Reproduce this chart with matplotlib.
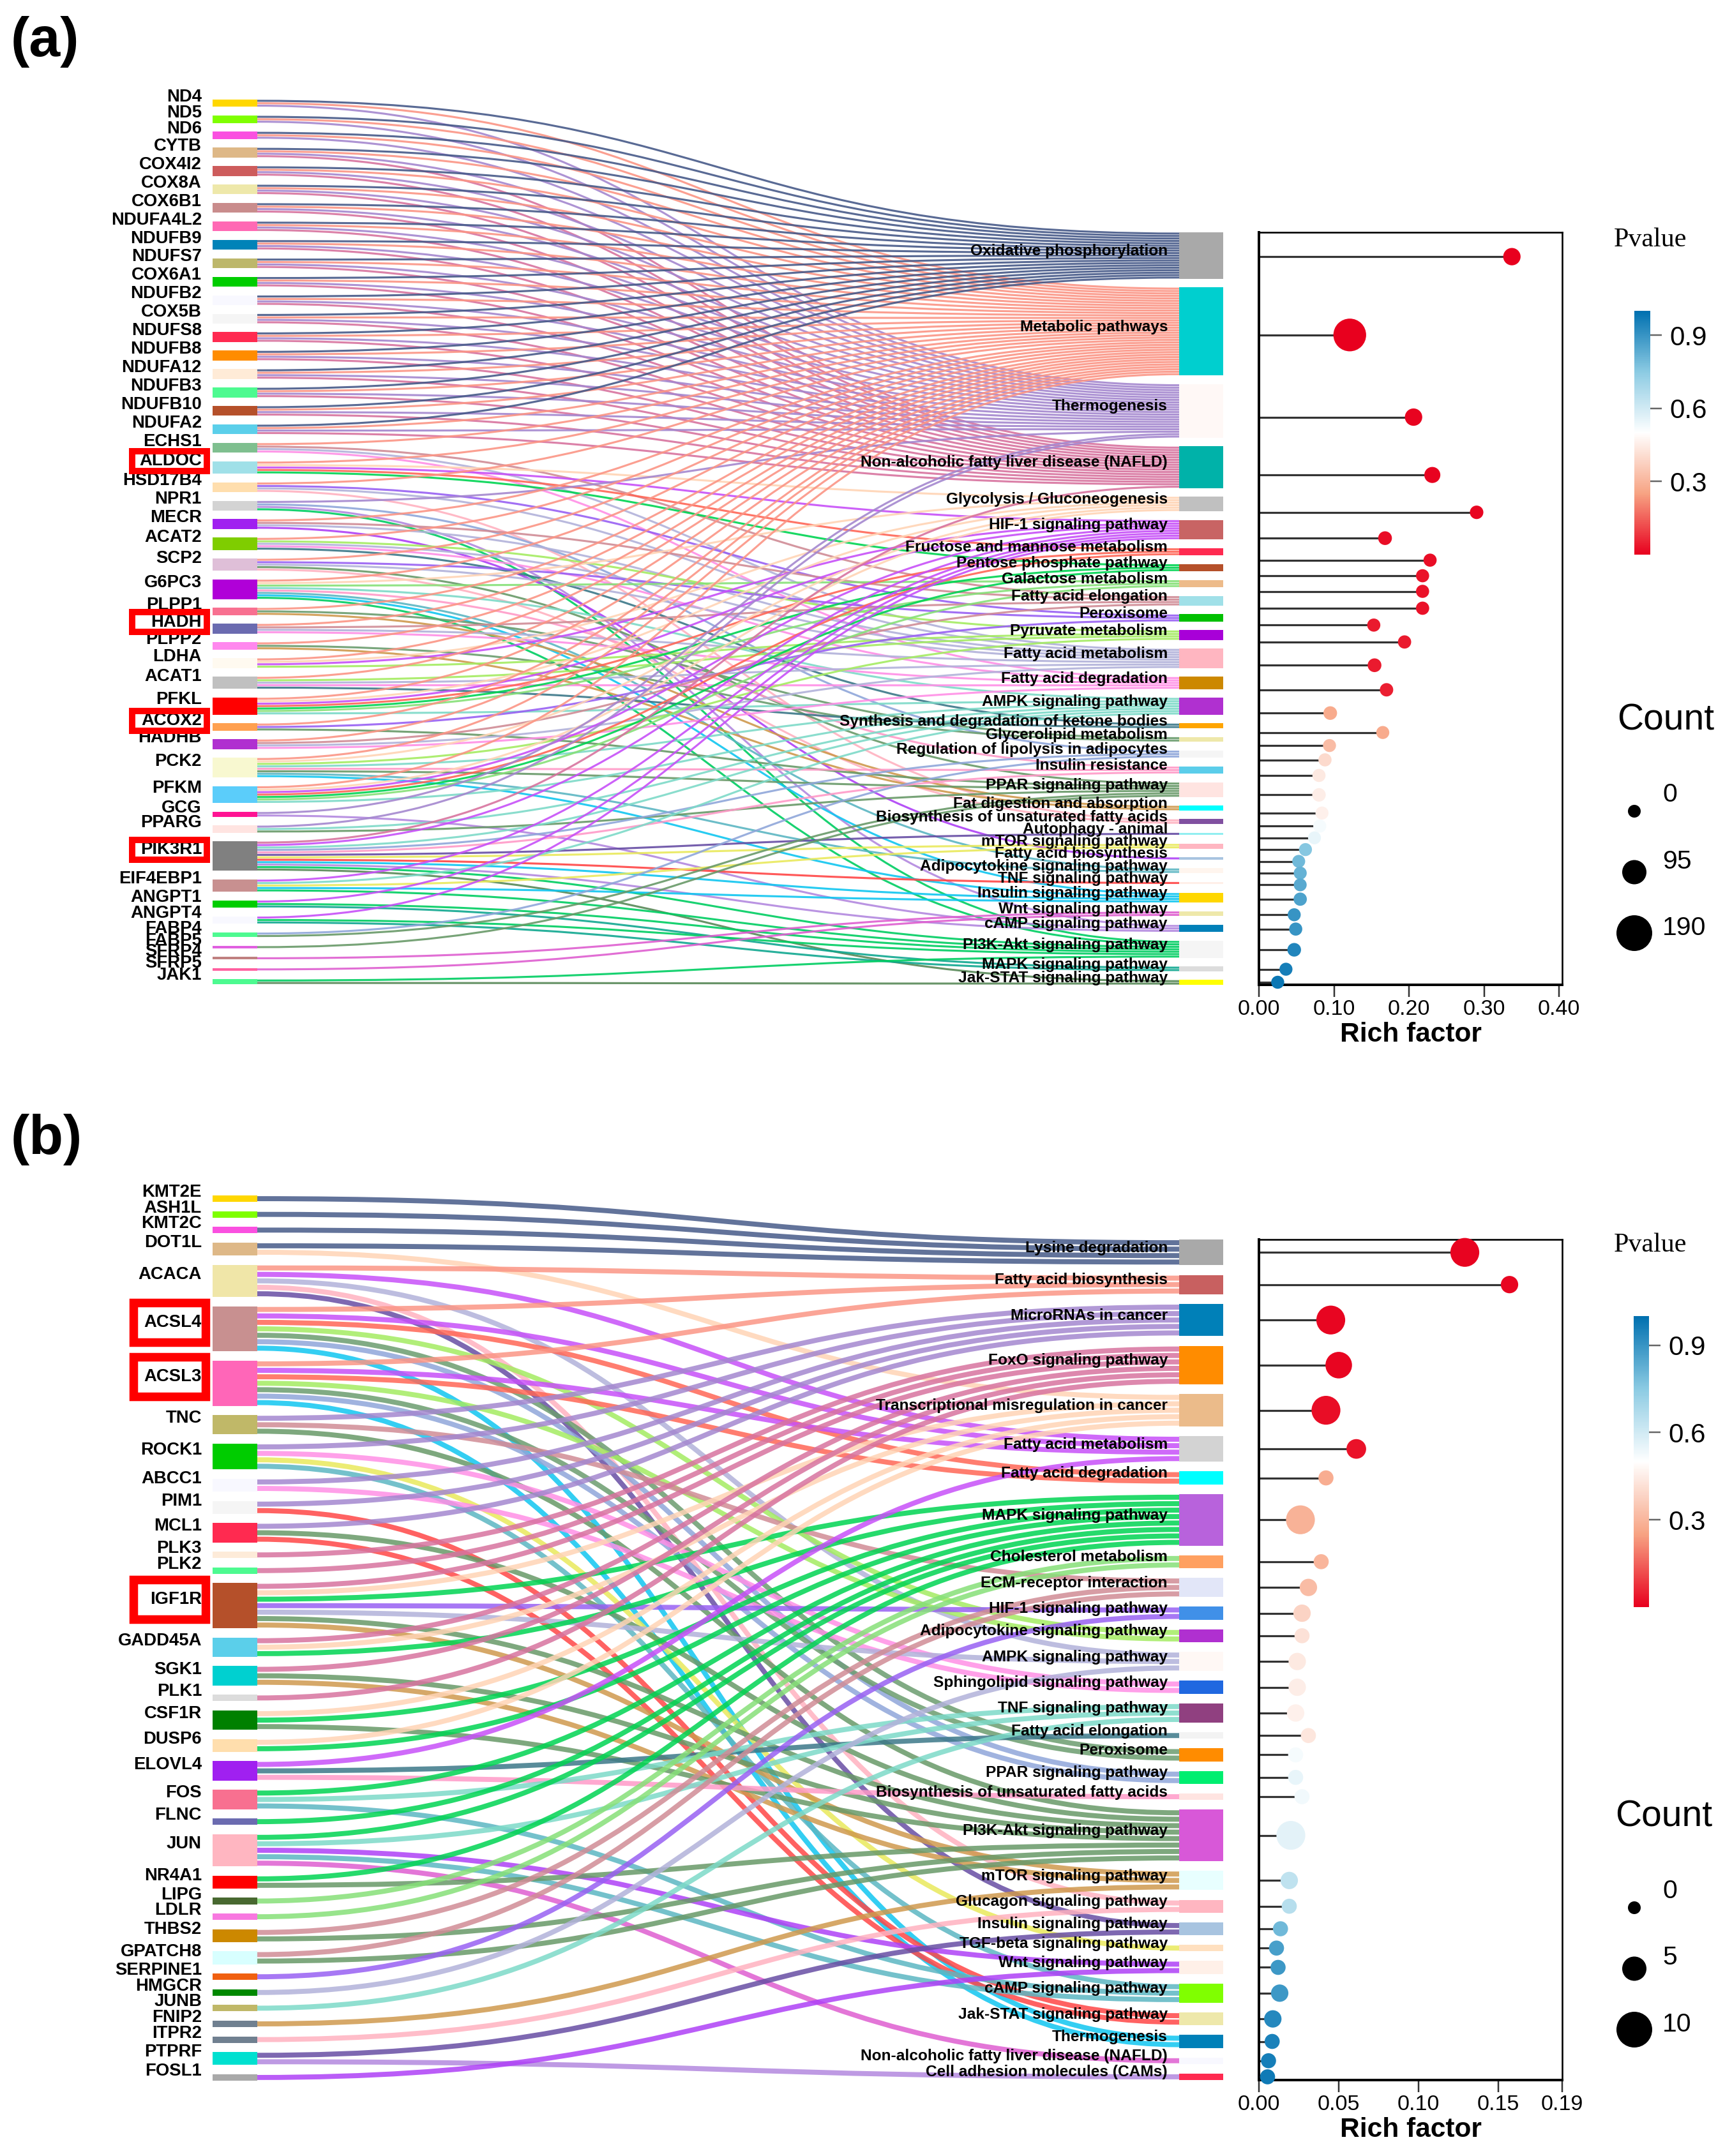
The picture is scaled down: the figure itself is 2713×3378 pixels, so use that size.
import numpy as np
import matplotlib
matplotlib.use("Agg")
import matplotlib.pyplot as plt
from matplotlib.path import Path
from matplotlib.patches import PathPatch, Rectangle
from matplotlib.colors import LinearSegmentedColormap, Normalize
from matplotlib.cm import ScalarMappable

plt.rcParams['font.family'] = ['Liberation Sans', 'DejaVu Sans']

# ======================= DATA : panel (a) =======================
genes_a = ['ND4', 'ND5', 'ND6', 'CYTB', 'COX4I2', 'COX8A', 'COX6B1', 'NDUFA4L2', 'NDUFB9',
           'NDUFS7', 'COX6A1', 'NDUFB2', 'COX5B', 'NDUFS8', 'NDUFB8', 'NDUFA12', 'NDUFB3',
           'NDUFB10', 'NDUFA2', 'ECHS1', 'ALDOC', 'HSD17B4', 'NPR1', 'MECR', 'ACAT2', 'SCP2',
           'G6PC3', 'PLPP1', 'HADH', 'PLPP2', 'LDHA', 'ACAT1', 'PFKL', 'ACOX2', 'HADHB', 'PCK2',
           'PFKM', 'GCG', 'PPARG', 'PIK3R1', 'EIF4EBP1', 'ANGPT1', 'ANGPT4', 'FABP4', 'FABP5',
           'SFRP4', 'SFRP5', 'JAK1']
pathway_keys_a = ['OX', 'MET', 'THERMO', 'NAFLD', 'GLY', 'HIF', 'FRU', 'PPP', 'GAL', 'FAE', 'PER',
                  'PYR', 'FAM', 'FAD', 'AMPK', 'KET', 'GLP', 'LIP', 'INR', 'PPAR', 'FDA', 'BUF',
                  'AUT', 'MTOR', 'FAB', 'ADI', 'TNF', 'INS', 'WNT', 'CAMP', 'PI3K', 'MAPK', 'JAK']
pathways_a = ['Oxidative phosphorylation', 'Metabolic pathways', 'Thermogenesis',
              'Non-alcoholic fatty liver disease (NAFLD)', 'Glycolysis / Gluconeogenesis',
              'HIF-1 signaling pathway', 'Fructose and mannose metabolism',
              'Pentose phosphate pathway', 'Galactose metabolism', 'Fatty acid elongation',
              'Peroxisome', 'Pyruvate metabolism', 'Fatty acid metabolism',
              'Fatty acid degradation', 'AMPK signaling pathway',
              'Synthesis and degradation of ketone bodies', 'Glycerolipid metabolism',
              'Regulation of lipolysis in adipocytes', 'Insulin resistance',
              'PPAR signaling pathway', 'Fat digestion and absorption',
              'Biosynthesis of unsaturated fatty acids', 'Autophagy - animal',
              'mTOR signaling pathway', 'Fatty acid biosynthesis',
              'Adipocytokine signaling pathway', 'TNF signaling pathway',
              'Insulin signaling pathway', 'Wnt signaling pathway', 'cAMP signaling pathway',
              'PI3K-Akt signaling pathway', 'MAPK signaling pathway', 'Jak-STAT signaling pathway']
links_a = {
    'ND4': ['OX', 'MET', 'THERMO'],
    'ND5': ['OX', 'MET', 'THERMO'],
    'ND6': ['OX', 'MET', 'THERMO'],
    'CYTB': ['OX', 'MET', 'THERMO', 'NAFLD'],
    'COX4I2': ['OX', 'MET', 'THERMO', 'NAFLD'],
    'COX8A': ['OX', 'MET', 'THERMO', 'NAFLD'],
    'COX6B1': ['OX', 'MET', 'THERMO', 'NAFLD'],
    'NDUFA4L2': ['OX', 'MET', 'THERMO', 'NAFLD'],
    'NDUFB9': ['OX', 'MET', 'THERMO', 'NAFLD'],
    'NDUFS7': ['OX', 'MET', 'THERMO', 'NAFLD'],
    'COX6A1': ['OX', 'MET', 'THERMO', 'NAFLD'],
    'NDUFB2': ['OX', 'MET', 'THERMO', 'NAFLD'],
    'COX5B': ['OX', 'MET', 'THERMO', 'NAFLD'],
    'NDUFS8': ['OX', 'MET', 'THERMO', 'NAFLD'],
    'NDUFB8': ['OX', 'MET', 'THERMO', 'NAFLD'],
    'NDUFA12': ['OX', 'MET', 'THERMO', 'NAFLD'],
    'NDUFB3': ['OX', 'MET', 'THERMO', 'NAFLD'],
    'NDUFB10': ['OX', 'MET', 'THERMO', 'NAFLD'],
    'NDUFA2': ['OX', 'MET', 'THERMO', 'NAFLD'],
    'ECHS1': ['MET', 'FAE', 'FAM', 'FAD'],
    'ALDOC': ['MET', 'GLY', 'HIF', 'FRU', 'PPP'],
    'HSD17B4': ['MET', 'PER', 'FAM', 'BUF'],
    'NPR1': ['THERMO', 'LIP', 'CAMP', 'PI3K'],
    'MECR': ['MET', 'FAE', 'FAM', 'FAB'],
    'ACAT2': ['MET', 'PYR', 'FAM', 'FAD', 'KET'],
    'SCP2': ['MET', 'PER', 'FAM', 'PPAR', 'BUF'],
    'G6PC3': ['MET', 'GLY', 'GAL', 'AMPK', 'INR', 'ADI', 'INS', 'PI3K'],
    'PLPP1': ['MET', 'GLP', 'FDA'],
    'HADH': ['MET', 'FAE', 'FAM', 'FAD'],
    'PLPP2': ['MET', 'GLP', 'FDA'],
    'LDHA': ['MET', 'GLY', 'HIF', 'PYR'],
    'ACAT1': ['MET', 'PYR', 'FAM', 'FAD', 'KET'],
    'PFKL': ['MET', 'GLY', 'HIF', 'FRU', 'PPP', 'GAL', 'AMPK'],
    'ACOX2': ['MET', 'PER', 'PPAR'],
    'HADHB': ['MET', 'FAE', 'FAM', 'FAD'],
    'PCK2': ['MET', 'GLY', 'PYR', 'AMPK', 'INR', 'ADI', 'INS', 'PPAR'],
    'PFKM': ['MET', 'GLY', 'HIF', 'FRU', 'PPP', 'GAL', 'AMPK'],
    'GCG': ['THERMO', 'CAMP'],
    'PPARG': ['THERMO', 'AMPK', 'PPAR'],
    'PIK3R1': ['NAFLD', 'HIF', 'AMPK', 'LIP', 'INR', 'AUT', 'MTOR', 'TNF', 'INS', 'CAMP', 'PI3K', 'JAK'],
    'EIF4EBP1': ['HIF', 'AMPK', 'MTOR', 'INS', 'PI3K'],
    'ANGPT1': ['HIF', 'PI3K', 'MAPK'],
    'ANGPT4': ['HIF', 'PI3K', 'MAPK'],
    'FABP4': ['LIP', 'PPAR'],
    'FABP5': ['PPAR'],
    'SFRP4': ['WNT'],
    'SFRP5': ['WNT'],
    'JAK1': ['PI3K', 'JAK'],
}
rich_a = [0.337, 0.121, 0.206, 0.231, 0.290, 0.168, 0.228, 0.218, 0.218, 0.218, 0.153,
          0.194, 0.154, 0.170, 0.095, 0.165, 0.094, 0.088, 0.080, 0.080, 0.084, 0.081,
          0.074, 0.062, 0.053, 0.055, 0.055, 0.055, 0.047, 0.049, 0.047, 0.036, 0.025]
pval_a = [0.001, 0.0005, 0.005, 0.006, 0.01, 0.02, 0.02, 0.03, 0.03, 0.03, 0.04,
          0.04, 0.04, 0.05, 0.27, 0.27, 0.32, 0.40, 0.44, 0.45, 0.46, 0.52,
          0.55, 0.76, 0.80, 0.82, 0.84, 0.86, 0.90, 0.90, 0.94, 0.96, 0.98]
count_a = [38, 165, 38, 27, 6, 8, 3, 3, 3, 4, 3, 4, 8, 5, 7, 2, 2, 3, 3, 6, 2, 2,
           1, 2, 1, 2, 1, 4, 2, 3, 7, 2, 2]
highlight_a = ['ALDOC', 'HADH', 'ACOX2', 'PIK3R1']
legend_counts_a = [0, 95, 190]

# ======================= DATA : panel (b) =======================
genes_b = ['KMT2E', 'ASH1L', 'KMT2C', 'DOT1L', 'ACACA', 'ACSL4', 'ACSL3', 'TNC', 'ROCK1',
           'ABCC1', 'PIM1', 'MCL1', 'PLK3', 'PLK2', 'IGF1R', 'GADD45A', 'SGK1', 'PLK1',
           'CSF1R', 'DUSP6', 'ELOVL4', 'FOS', 'FLNC', 'JUN', 'NR4A1', 'LIPG', 'LDLR', 'THBS2',
           'GPATCH8', 'SERPINE1', 'HMGCR', 'JUNB', 'FNIP2', 'ITPR2', 'PTPRF', 'FOSL1']
pathway_keys_b = ['LYS', 'FAB', 'MIR', 'FOXO', 'TMC', 'FAM', 'FAD', 'MAPK', 'CHO', 'ECM', 'HIF',
                  'ADI', 'AMPK', 'SPH', 'TNF', 'FAE', 'PER', 'PPAR', 'BUF', 'PI3K', 'MTOR',
                  'GCG', 'INS', 'TGF', 'WNT', 'CAMP', 'JAK', 'THERMO', 'NAFLD', 'CAM']
pathways_b = ['Lysine degradation', 'Fatty acid biosynthesis', 'MicroRNAs in cancer',
              'FoxO signaling pathway', 'Transcriptional misregulation in cancer',
              'Fatty acid metabolism', 'Fatty acid degradation', 'MAPK signaling pathway',
              'Cholesterol metabolism', 'ECM-receptor interaction', 'HIF-1 signaling pathway',
              'Adipocytokine signaling pathway', 'AMPK signaling pathway',
              'Sphingolipid signaling pathway', 'TNF signaling pathway',
              'Fatty acid elongation', 'Peroxisome', 'PPAR signaling pathway',
              'Biosynthesis of unsaturated fatty acids', 'PI3K-Akt signaling pathway',
              'mTOR signaling pathway', 'Glucagon signaling pathway',
              'Insulin signaling pathway', 'TGF-beta signaling pathway',
              'Wnt signaling pathway', 'cAMP signaling pathway', 'Jak-STAT signaling pathway',
              'Thermogenesis', 'Non-alcoholic fatty liver disease (NAFLD)',
              'Cell adhesion molecules (CAMs)']
links_b = {
    'KMT2E': ['LYS'],
    'ASH1L': ['LYS'],
    'KMT2C': ['LYS'],
    'DOT1L': ['LYS', 'TMC'],
    'ACACA': ['FAB', 'FAM', 'AMPK', 'GCG', 'INS'],
    'ACSL4': ['FAB', 'FAM', 'FAD', 'ADI', 'PER', 'PPAR', 'THERMO'],
    'ACSL3': ['FAB', 'FAM', 'FAD', 'ADI', 'PER', 'PPAR', 'THERMO'],
    'TNC': ['MIR', 'ECM', 'PI3K'],
    'ROCK1': ['MIR', 'SPH', 'TGF', 'CAMP'],
    'ABCC1': ['MIR', 'SPH'],
    'PIM1': ['MIR', 'JAK'],
    'MCL1': ['MIR', 'PI3K', 'JAK'],
    'PLK3': ['FOXO'],
    'PLK2': ['FOXO'],
    'IGF1R': ['FOXO', 'TMC', 'MAPK', 'HIF', 'AMPK', 'PI3K', 'MTOR'],
    'GADD45A': ['FOXO', 'TMC', 'MAPK'],
    'SGK1': ['FOXO', 'PI3K', 'MTOR'],
    'PLK1': ['FOXO'],
    'CSF1R': ['TMC', 'MAPK', 'PI3K'],
    'DUSP6': ['TMC', 'MAPK'],
    'ELOVL4': ['FAM', 'FAE', 'BUF'],
    'FOS': ['MAPK', 'TNF', 'CAMP'],
    'FLNC': ['MAPK'],
    'JUN': ['MAPK', 'TNF', 'WNT', 'CAMP', 'NAFLD'],
    'NR4A1': ['MAPK', 'PI3K'],
    'LIPG': ['CHO'],
    'LDLR': ['CHO'],
    'THBS2': ['ECM', 'PI3K'],
    'GPATCH8': ['ECM', 'PI3K'],
    'SERPINE1': ['HIF'],
    'HMGCR': ['AMPK'],
    'JUNB': ['TNF'],
    'FNIP2': ['MTOR'],
    'ITPR2': ['GCG'],
    'PTPRF': ['INS', 'CAM'],
    'FOSL1': ['WNT'],
}
rich_b = [0.129, 0.157, 0.045, 0.050, 0.042, 0.061, 0.042, 0.026, 0.039, 0.031, 0.027,
          0.027, 0.024, 0.024, 0.023, 0.031, 0.023, 0.023, 0.027, 0.020, 0.019, 0.019,
          0.0135, 0.011, 0.012, 0.013, 0.0087, 0.0083, 0.006, 0.0054]
pval_b = [0.005, 0.01, 0.01, 0.01, 0.02, 0.03, 0.28, 0.29, 0.30, 0.32, 0.38, 0.42, 0.44,
          0.45, 0.46, 0.43, 0.52, 0.55, 0.53, 0.56, 0.64, 0.66, 0.80, 0.87, 0.89, 0.89,
          0.93, 0.95, 0.96, 0.97]
count_b = [7, 2, 7, 6, 7, 3, 1, 7, 1, 2, 2, 1, 2, 2, 2, 1, 1, 1, 1, 7, 2, 1, 1, 1, 1, 2,
           2, 1, 1, 1]
highlight_b = ['ACSL4', 'ACSL3', 'IGF1R']
legend_counts_b = [0, 5, 10]

# ======================= STYLE =======================
LINK_PAL = ['#475a89', '#fb9585', '#a487cf', '#d8739f', '#ffd4b5', '#c750f8', '#ff6656',
            '#00d452', '#86e078', '#d08c96', '#9860f3', '#a4ec62', '#b2b2da', '#ff8fe6',
            '#7ddac8', '#3c7889', '#6b9c6e', '#8fa6da', '#ff9ac8', '#689968', '#cf994d',
            '#ffb2c0', '#674ea4', '#e9e95c', '#ae40f6', '#5cb6c2', '#ff4646', '#10c6f0',
            '#de5ed0', '#b388df', '#00cd62', '#10a890', '#588958']
GENE_COL_A = ['#ffd700', '#7fff00', '#fa50e0', '#deb887', '#cd5c5c', '#eee8aa', '#c98c8c',
              '#ff69b4', '#0083b8', '#bdb76b', '#00cd00', '#f8f8ff', '#f5f5f5', '#ff2a50',
              '#ff8c00', '#ffebd7', '#4dfa90', '#b5502a', '#5bcfea', '#7fbf8f', '#a0e0e8',
              '#ffdead', '#d3d3d3', '#a020f0', '#7fcd00', '#dfbfd8', '#b000d8', '#f87090',
              '#6b6bb0', '#ff88ee', '#fffaf0', '#c0c0c0', '#ff0000', '#ffa050', '#b030d0',
              '#f8f8d0', '#5bcdfa', '#ff1493', '#ffe4e1', '#808080', '#c89090', '#00cd00',
              '#f8f8ff', '#4dfa90', '#e060e0', '#c08080', '#ff60a0', '#4dfa90']
PW_COL_A = ['#a9a9a9', '#00cfcf', '#fff8f6', '#00b2a9', '#c0c0c0', '#c86464', '#ff2a50',
            '#b5502a', '#edbb8a', '#a0e0e8', '#00c000', '#a800d8', '#ffb6c1', '#cc8800',
            '#b030d0', '#ffa500', '#eee8aa', '#f5f5f5', '#5bcdea', '#ffe4e1', '#00ffff',
            '#8050a0', '#90eef0', '#ffb6c1', '#a8c4e0', '#fff5ee', '#ffefe8', '#ffd700',
            '#eee8aa', '#0080b8', '#f5f5f5', '#dcdcdc', '#ffff00']
GENE_COL_B = ['#ffd700', '#7fff00', '#fa50e0', '#deb887', '#f0e6a8', '#c89090', '#ff66b8',
              '#c0b868', '#00cc00', '#f8f8ff', '#f5f5f5', '#ff2a50', '#fdebd9', '#4dfa90',
              '#b5502a', '#5bcfea', '#00d0d0', '#dcdcdc', '#008000', '#ffdead', '#a020f0',
              '#f87090', '#6b6bb0', '#ffb6c1', '#ff0000', '#486830', '#f878e0', '#cc8800',
              '#d8ffff', '#f06010', '#008800', '#c0b868', '#708090', '#708090', '#00e0d0',
              '#a9a9a9']
PW_COL_B = ['#a9a9a9', '#c86060', '#0080b8', '#ff8c00', '#ebbb8a', '#d3d3d3', '#00ffff',
            '#b862dc', '#ffa060', '#e2e6f8', '#4090e8', '#b030d0', '#fff8f5', '#2068e0',
            '#904080', '#f3f3f3', '#ff8c00', '#00ee70', '#ffe4e1', '#d858d8', '#e8ffff',
            '#ffb6c1', '#a8c4e0', '#ffe0c0', '#fff0e8', '#80ff00', '#eee8aa', '#0080b8',
            '#f8f8ff', '#ff2a50']

W, H, DPI = 2713, 3378, 100
PT = 72.0 / DPI   # points per pixel

COMMON = dict(gx0=333, gx1=403, px0=1847, px1=1916, glabel_x=316, glabel_dy=-10,
              plabel_x=1829, plabel_dy=-7, lx0=1972, lx1=2447, box_x0=202, box_x1=329,
              dmin=20, dmax=56, legend_x=2560, legend_label_x=2604, legend_dy=95.5)
LA = dict(COMMON, left_top=156, left_bottom=1542, pad=13.6, right_top=364, right_bottom=1543,
          lolli_pad=12.4, xmax=0.404, xticks=[0, 0.1, 0.2, 0.3, 0.4], box_h=41, box_lw=10,
          cbar=(2560, 487, 2585, 869), pv=(2585, 376), count_title=(2609, 1129),
          legend_y0=1271, panel_label=(17, 65), label='(a)', link_frac=0.82, link_alpha=0.9)
LB = dict(COMMON, left_top=1873, left_bottom=3260, pad=14.5, right_top=1942, right_bottom=3259,
          lolli_pad=None, xmax=0.19, xticks=[0, 0.05, 0.10, 0.15, 0.19], box_h=75, box_lw=13.5,
          cbar=(2559, 2062, 2583, 2518), pv=(2585, 1951), count_title=(2606, 2847),
          legend_y0=2989, panel_label=(17, 1785), label='(b)', link_frac=0.78, link_alpha=0.85)

cmap = LinearSegmentedColormap.from_list(
    'pv', [(0.0, '#e8001e'), (0.25, '#f7a383'), (0.5, '#ffffff'), (0.75, '#8ccbe3'), (1.0, '#0070b0')])
norm = Normalize(0, 1)

fig = plt.figure(figsize=(W / DPI, H / DPI), dpi=DPI)
ax0 = fig.add_axes([0, 0, 1, 1])
ax0.set_xlim(0, W)
ax0.set_ylim(H, 0)
ax0.axis('off')


def stack(counts, top, bottom, pad=None, ky=None):
    counts = np.asarray(counts, float)
    n = len(counts)
    span = bottom - top
    if ky is None:
        ky = (span - (n - 1) * pad) / counts.sum()
    if pad is None:
        pad = (span - ky * counts.sum()) / (n - 1)
    heights = counts * ky
    tops = top + np.concatenate([[0.0], np.cumsum(heights[:-1] + pad)])
    return tops, heights, ky


def draw_panel(genes, links, pw_names, pw_keys, rich, pval, count, highlight, legend_counts,
               L, gene_cols, pw_cols, cmax):
    gidx = {g: i for i, g in enumerate(genes)}
    pidx = {k: j for j, k in enumerate(pw_keys)}
    pairs = [(gidx[g], pidx[k]) for g in genes for k in links[g]]
    gcount = np.bincount([p[0] for p in pairs], minlength=len(genes))
    pcount = np.bincount([p[1] for p in pairs], minlength=len(pw_keys))
    gt, gh, ky = stack(gcount, L['left_top'], L['left_bottom'], pad=L['pad'])
    pt, ph, _ = stack(pcount, L['right_top'], L['right_bottom'], ky=ky)

    src_rank, tgt_rank = {}, {}
    for i in range(len(genes)):
        outs = sorted([p for p in pairs if p[0] == i], key=lambda p: p[1])
        for r, p in enumerate(outs):
            src_rank[p] = r
    for j in range(len(pw_keys)):
        ins = sorted([p for p in pairs if p[1] == j], key=lambda p: p[0])
        for r, p in enumerate(ins):
            tgt_rank[p] = r

    x0, x1 = L['gx1'], L['px0']
    xm = (x0 + x1) / 2
    for p in pairs:
        y0 = gt[p[0]] + (src_rank[p] + 0.5) * ky
        y1 = pt[p[1]] + (tgt_rank[p] + 0.5) * ky
        path = Path([(x0, y0), (xm, y0), (xm, y1), (x1, y1)],
                    [Path.MOVETO, Path.CURVE4, Path.CURVE4, Path.CURVE4])
        ax0.add_patch(PathPatch(path, fc='none', ec=LINK_PAL[p[1]],
                                lw=ky * L['link_frac'] * PT, alpha=L['link_alpha'],
                                capstyle='butt', zorder=1))

    # gene nodes + labels
    for i, g in enumerate(genes):
        ax0.add_patch(Rectangle((L['gx0'], gt[i]), L['gx1'] - L['gx0'], gh[i],
                                fc=gene_cols[i], ec='none', zorder=2))
        ly = gt[i] + gh[i] / 2 + L['glabel_dy']
        ax0.text(L['glabel_x'], ly, g, ha='right', va='center', fontsize=27.5 * PT,
                 fontweight='bold', color='black', zorder=4)
        if g in highlight:
            lw = L['box_lw']
            ax0.add_patch(Rectangle((L['box_x0'] + lw / 2, ly - L['box_h'] / 2 + lw / 2),
                                    L['box_x1'] - L['box_x0'] - lw, L['box_h'] - lw,
                                    fill=False, ec='#ff0000', lw=lw * PT, zorder=5,
                                    joinstyle='miter'))
    # pathway nodes + labels
    for j, name in enumerate(pw_names):
        ax0.add_patch(Rectangle((L['px0'], pt[j]), L['px1'] - L['px0'], ph[j],
                                fc=pw_cols[j], ec='none', zorder=2))
        ax0.text(L['plabel_x'], pt[j] + ph[j] / 2 + L['plabel_dy'], name, ha='right',
                 va='center', fontsize=24.5 * PT, fontweight='bold', color='black', zorder=4)

    # lollipop
    rt, rb = L['right_top'], L['right_bottom']
    if L['lolli_pad'] is None:
        yrow = pt + ph / 2
    else:
        tt, hh, _ = stack(pcount, rt, rb, pad=L['lolli_pad'])
        yrow = tt + hh / 2
    axh = rb - rt
    axl = fig.add_axes([L['lx0'] / W, 1 - rb / H, (L['lx1'] - L['lx0']) / W, axh / H])
    axl.set_xlim(0, L['xmax'])
    axl.set_ylim(rb, rt)
    axl.hlines(yrow, 0, rich, color='#333333', lw=3.2 * PT, zorder=2)
    d_px = L['dmin'] + (L['dmax'] - L['dmin']) * np.asarray(count, float) / cmax
    axl.scatter(rich, yrow, s=(d_px * PT) ** 2, c=pval, cmap=cmap, norm=norm,
                edgecolors='none', zorder=3, clip_on=False)
    axl.set_yticks([])
    axl.set_xticks(L['xticks'])
    axl.set_xticklabels(['%.2f' % t for t in L['xticks']])
    axl.tick_params(axis='x', length=19 * PT, width=2.5 * PT, color='#333333',
                    labelsize=34 * PT, pad=3)
    for s in ['top', 'right']:
        axl.spines[s].set_linewidth(2.6 * PT)
    for s in ['left', 'bottom']:
        axl.spines[s].set_linewidth(4 * PT)
    axl.set_xlabel('Rich factor', fontsize=42.5 * PT, fontweight='bold')
    axl.xaxis.set_label_coords(0.5, -58 / axh)

    # colorbar
    cx0, cy0, cx1, cy1 = L['cbar']
    cax = fig.add_axes([cx0 / W, 1 - cy1 / H, (cx1 - cx0) / W, (cy1 - cy0) / H])
    sm = ScalarMappable(norm=norm, cmap=cmap)
    cb = fig.colorbar(sm, cax=cax)
    cb.outline.set_visible(False)
    cb.set_ticks([0.3, 0.6, 0.9])
    cb.set_ticklabels(['0.3', '0.6', '0.9'])
    cax.tick_params(length=18 * PT, width=2.5 * PT, color='#666666', labelsize=42 * PT,
                    pad=12 * PT)
    ax0.text(L['pv'][0], L['pv'][1], 'Pvalue', family=['Liberation Serif', 'DejaVu Serif'],
             fontsize=42 * PT, ha='center', va='center')
    ax0.text(L['count_title'][0], L['count_title'][1], 'Count', fontsize=57 * PT,
             ha='center', va='center')
    for k, c in enumerate(legend_counts):
        d = L['dmin'] + (L['dmax'] - L['dmin']) * c / cmax
        yy = L['legend_y0'] + k * L['legend_dy']
        ax0.scatter([L['legend_x']], [yy], s=(d * PT) ** 2, c='black', edgecolors='none',
                    zorder=3)
        ax0.text(L['legend_label_x'], yy + d / 2 - 36, str(c), fontsize=41 * PT,
                 ha='left', va='center')
    ax0.text(L['panel_label'][0], L['panel_label'][1], L['label'], fontsize=88 * PT,
             fontweight='bold', ha='left', va='center')


draw_panel(genes_a, links_a, pathways_a, pathway_keys_a, rich_a, pval_a, count_a,
           highlight_a, legend_counts_a, LA, GENE_COL_A, PW_COL_A, cmax=190)
draw_panel(genes_b, links_b, pathways_b, pathway_keys_b, rich_b, pval_b, count_b,
           highlight_b, legend_counts_b, LB, GENE_COL_B, PW_COL_B, cmax=10)

fig.savefig('out.png', dpi=DPI, facecolor='white')
